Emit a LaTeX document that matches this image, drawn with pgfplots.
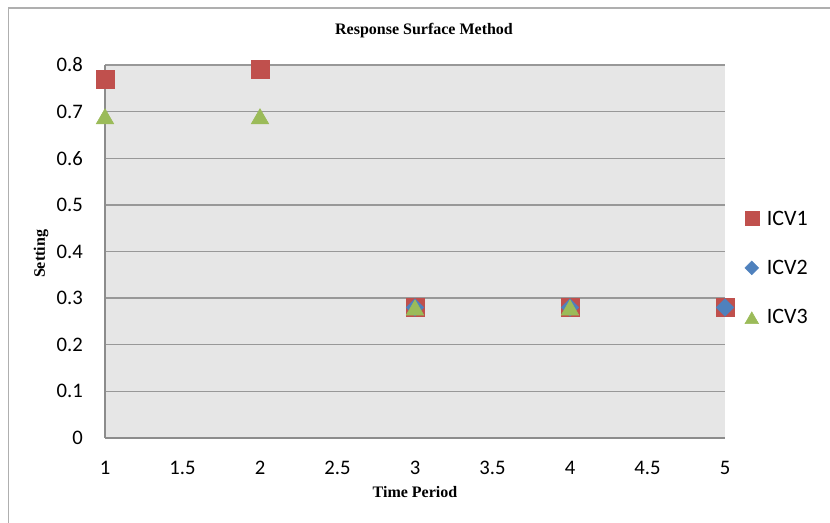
\documentclass[border=0pt]{standalone}
\usepackage{fontspec}
\usepackage{pgfplots}
\pgfplotsset{compat=1.18}
\newfontfamily\calib{Carlito}
\newfontfamily\tnr{Liberation Serif}
\definecolor{cA}{HTML}{C0504D}
\definecolor{cB}{HTML}{4F81BD}
\definecolor{cC}{HTML}{9BBB59}
\definecolor{plotbg}{RGB}{230,230,230}
\definecolor{gridc}{RGB}{152,152,152}
\definecolor{axc}{RGB}{140,140,140}
\definecolor{borderc}{RGB}{175,175,175}
\pgfplotsset{smallmark/.style={legend image code/.code={\draw[##1,/tikz/every mark/.append style={scale=0.78}] plot coordinates {(0.25cm,0cm)};}}}
\begin{document}
\begin{tikzpicture}[x=0.75pt,y=0.75pt]
\useasboundingbox (0,0) rectangle (830,523);
\draw[borderc, line width=1.1pt] (8.5,-20) -- (8.5,515) -- (850,515);
\begin{axis}[
  at={(78.75pt,63.75pt)}, anchor=south west,
  scale only axis, width=465pt, height=279.75pt,
  xmin=1, xmax=5, ymin=0, ymax=0.8,
  clip=false,
  axis background/.style={fill=plotbg},
  axis lines*=left,
  axis line style={-, axc, line width=1.1pt},
  xtick={1,1.5,2,2.5,3,3.5,4,4.5,5},
  ytick={0,0.1,0.2,0.3,0.4,0.5,0.6,0.7,0.8},
  yticklabels={0,0.1,0.2,0.3,0.4,0.5,0.6,0.7,0.8},
  xticklabels={1,1.5,2,2.5,3,3.5,4,4.5,5},
  major tick length=0pt,
  ymajorgrids,
  grid style={gridc, line width=1pt},
  /pgf/number format/assume math mode=true,
  tick label style={font=\calib\fontsize{15.5}{18}\selectfont},
  yticklabel style={anchor=east, inner sep=0pt, xshift=-16.5pt},
  xticklabel style={anchor=center, inner sep=0pt, yshift=-22.5pt},
  legend cell align=left,
  legend style={at={(axis description cs:1.025,0.456)}, anchor=west,
    draw=none, fill=none, font=\calib\fontsize{16.5}{19}\selectfont,
    row sep=23pt,
    /tikz/every odd column/.append style={column sep=5pt},
    nodes={inner sep=1pt, text height=11pt, text depth=1pt}},
]
\addplot[only marks, mark=square*, mark size=6.75pt, color=cA, fill=cA, smallmark]
  coordinates {(1,0.77) (2,0.79) (3,0.28) (4,0.28) (5,0.28)};
\addlegendentry{ICV1}
\addplot[only marks, mark=diamond*, mark size=6.6pt, mark options={xscale=1.333}, color=cB, fill=cB, smallmark]
  coordinates {(3,0.28) (4,0.28) (5,0.28)};
\addlegendentry{ICV2}
\addplot[only marks, mark=triangle*, mark size=7.6pt, mark options={yshift=-1.9pt}, color=cC, fill=cC, smallmark]
  coordinates {(1,0.69) (2,0.69) (3,0.28) (4,0.28)};
\addlegendentry{ICV3}
\end{axis}
\node[font=\tnr\bfseries\fontsize{12}{14}\selectfont] at (424,492) {Response Surface Method};
\node[font=\tnr\bfseries\fontsize{12}{14}\selectfont] at (415,31) {Time Period};
\node[font=\tnr\bfseries\fontsize{12}{14}\selectfont, rotate=90] at (41,269) {Setting};
\end{tikzpicture}
\end{document}
